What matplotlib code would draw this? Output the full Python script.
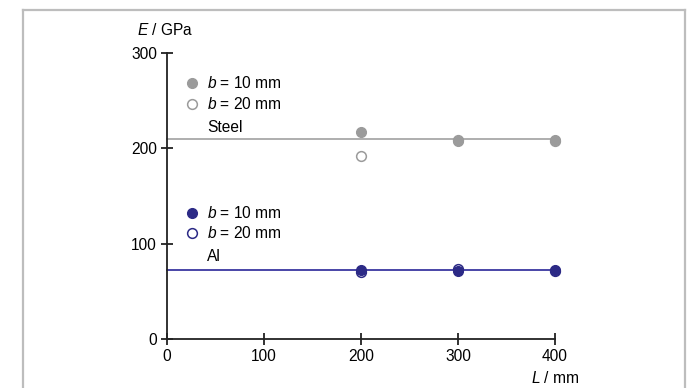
import matplotlib
matplotlib.use("Agg")
import matplotlib.pyplot as plt
from matplotlib.lines import Line2D

plt.rcParams['font.family'] = ['Liberation Sans', 'DejaVu Sans']
plt.rcParams['mathtext.fontset'] = 'custom'
plt.rcParams['mathtext.it'] = 'Liberation Sans:italic'
plt.rcParams['mathtext.rm'] = 'Liberation Sans'

L = [200, 300, 400]
steel_b10 = [217, 207, 209]
steel_b20 = [192, 208.5, 207]
al_b10 = [72.3, 71.6, 71.8]
al_b20 = [70, 73.3, 71]
ref_x = [0, 400]
steel_ref = [210, 210]
al_ref = [72, 72]

x_ticks = [0, 100, 200, 300, 400]
y_ticks = [0, 100, 200, 300]

gray = '#9b9b9b'
gray_line = '#a8a8a8'
navy = '#2c2a86'
navy_line = '#3a37a0'
fs = 11.2

fig = plt.figure(figsize=(6.87, 3.88), dpi=100)
ax = fig.add_axes([0.2426, 0.1263, 0.8079 - 0.2426, 0.8642 - 0.1263])

ax.plot(ref_x, steel_ref, color=gray_line, lw=1.3, clip_on=False, zorder=2)
ax.plot(ref_x, al_ref, color=navy_line, lw=1.3, clip_on=False, zorder=2)

ms = 7
ax.plot(L, steel_b20, 'o', ms=ms, mfc='white', mec=gray, mew=1.1, ls='none', clip_on=False, zorder=3)
ax.plot(L, steel_b10, 'o', ms=ms, mfc=gray, mec=gray, mew=1.0, ls='none', clip_on=False, zorder=4)
ax.plot(L, al_b20, 'o', ms=ms, mfc='white', mec=navy, mew=1.1, ls='none', clip_on=False, zorder=3)
ax.plot(L, al_b10, 'o', ms=ms, mfc=navy, mec=navy, mew=1.0, ls='none', clip_on=False, zorder=4)

# legend entries
lx, tx = 26.6, 42
ax.plot([lx], [268], 'o', ms=ms, mfc=gray, mec=gray, clip_on=False)
ax.plot([lx], [246], 'o', ms=ms, mfc='white', mec=gray, mew=1.1, clip_on=False)
ax.text(tx, 268, r'$b$ = 10 mm', fontsize=fs, va='center', ha='left')
ax.text(tx, 246, r'$b$ = 20 mm', fontsize=fs, va='center', ha='left')
ax.text(tx, 222, 'Steel', fontsize=fs, va='center', ha='left')

ax.plot([lx], [132.4], 'o', ms=ms, mfc=navy, mec=navy, clip_on=False)
ax.plot([lx], [111.4], 'o', ms=ms, mfc='white', mec=navy, mew=1.1, clip_on=False)
ax.text(tx, 132.4, r'$b$ = 10 mm', fontsize=fs, va='center', ha='left')
ax.text(tx, 111.4, r'$b$ = 20 mm', fontsize=fs, va='center', ha='left')
ax.text(tx, 86.5, 'Al', fontsize=fs, va='center', ha='left')

ax.set_xlim(0, 400)
ax.set_ylim(0, 300)
ax.set_xticks(x_ticks)
ax.set_yticks(y_ticks)
for s in ['top', 'right']:
    ax.spines[s].set_visible(False)
for s in ['left', 'bottom']:
    ax.spines[s].set_linewidth(1.3)
    ax.spines[s].set_color('#222222')
ax.tick_params(direction='inout', length=8, width=1.3, color='#222222', labelsize=fs, pad=3)

ax.text(-0.005, 1.078, r'$E$ / GPa', transform=ax.transAxes, fontsize=fs, ha='center', va='center')
ax.text(1.0, -0.135, r'$L$ / mm', transform=ax.transAxes, fontsize=fs, ha='center', va='center')

# outer frame
bc = '#bdbdbd'
fig.add_artist(Line2D([23/687, 685/687], [1 - 10/388, 1 - 10/388], color=bc, lw=1.6, transform=fig.transFigure))
fig.add_artist(Line2D([23/687, 23/687], [0, 1 - 10/388], color=bc, lw=1.6, transform=fig.transFigure))
fig.add_artist(Line2D([685/687, 685/687], [0, 1 - 10/388], color=bc, lw=1.6, transform=fig.transFigure))

fig.savefig('out.png', dpi=100)
